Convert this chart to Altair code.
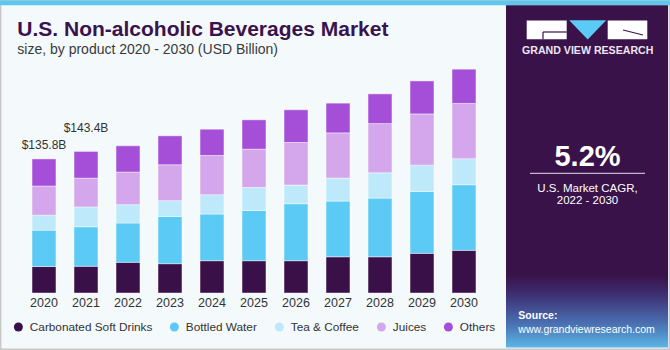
import altair as alt
import pandas as pd

# ---------------- data ----------------
years = ["2020", "2021", "2022", "2023", "2024", "2025", "2026", "2027", "2028", "2029", "2030"]
products = ["Carbonated Soft Drinks", "Bottled Water", "Tea & Coffee", "Juices", "Others"]
colors = ["#3A1049", "#5BCAF5", "#BDE9FA", "#D4A7EC", "#A54FD8"]

csd = [26.8, 27.1, 31.1, 29.7, 32.7, 32.7, 32.7, 36.7, 36.7, 40.2, 43.2]
water = [36.9, 40.0, 39.8, 47.9, 47.3, 50.9, 57.7, 56.4, 59.4, 62.7, 66.5]
tea = [15.1, 20.0, 18.5, 15.9, 19.5, 23.3, 18.9, 23.3, 25.6, 26.6, 26.3]
juices = [29.5, 29.2, 33.1, 36.4, 39.8, 38.8, 43.2, 45.8, 49.9, 51.9, 56.0]
others = [27.5, 27.1, 26.6, 29.3, 26.6, 29.7, 33.1, 30.1, 30.1, 33.4, 34.7]

title_text = "U.S. Non-alcoholic Beverages Market"
subtitle_text = "size, by product 2020 - 2030 (USD Billion)"
brand_text = "GRAND VIEW RESEARCH"
cagr_value = "5.2%"
cagr_line1 = "U.S. Market CAGR,"
cagr_line2 = "2022 - 2030"
source_label = "Source:"
source_url = "www.grandviewresearch.com"

series = [csd, water, tea, juices, others]
rows = []
for pi, (name, vals) in enumerate(zip(products, series)):
    for y, v in zip(years, vals):
        rows.append({"year": y, "product": name, "value": v, "order": pi})
df = pd.DataFrame(rows)

FONT = "Liberation Sans"
TXT = "#333333"
one = pd.DataFrame({"k": [0]})

x_enc = alt.X("year:O", title=None, sort=years,
              scale=alt.Scale(paddingInner=0.43, paddingOuter=0.215),
              axis=alt.Axis(labelAngle=0, domain=False, ticks=False, labelFontSize=12.5,
                            labelColor=TXT, labelPadding=3, labelFont=FONT))

bars = alt.Chart(df).mark_bar(stroke="white", strokeWidth=0.8, strokeOpacity=0.55).encode(
    x=x_enc,
    y=alt.Y("value:Q", stack="zero", axis=None, scale=alt.Scale(domain=[0, 236], nice=False)),
    color=alt.Color("product:N", sort=products,
                    scale=alt.Scale(domain=products, range=colors),
                    legend=alt.Legend(title=None, orient="none", direction="horizontal",
                                      legendX=-10.5, legendY=261, symbolType="circle",
                                      symbolSize=81, symbolStrokeWidth=0, labelFontSize=11.8,
                                      labelFont=FONT, labelColor=TXT, columnPadding=16,
                                      labelOffset=5.5, padding=0)),
    order=alt.Order("order:Q", sort="ascending"),
)

totals = alt.Chart(df).transform_aggregate(
    total="sum(value)", groupby=["year"]
).transform_calculate(
    label="'$' + format(datum.total, '.1f') + 'B'"
)

lab2020 = totals.transform_filter(alt.datum.year == "2020").mark_text(
    fontSize=12, font=FONT, color=TXT, dy=-14, baseline="middle").encode(
    x=alt.X("year:O", sort=years), y=alt.Y("total:Q"), text="label:N")
lab2021 = totals.transform_filter(alt.datum.year == "2021").mark_text(
    fontSize=12, font=FONT, color=TXT, dy=-23, baseline="middle").encode(
    x=alt.X("year:O", sort=years), y=alt.Y("total:Q"), text="label:N")

# ---------------- decorations (plot origin at image (23, 60)) ----------------
def rect(x, x2, y, y2, **kw):
    return alt.Chart(one).mark_rect(**kw).encode(
        x=alt.value(x), x2=alt.value(x2), y=alt.value(y), y2=alt.value(y2))

def text(t, x, y, **kw):
    return alt.Chart(one).mark_text(text=t, font=FONT, **kw).encode(
        x=alt.value(x), y=alt.value(y))

def rule(x, x2, y, y2, **kw):
    return alt.Chart(one).mark_rule(**kw).encode(
        x=alt.value(x), x2=alt.value(x2), y=alt.value(y), y2=alt.value(y2))

border = rect(-22.3, 646.3, -59.3, 289.3, fill=None, stroke="#C8C8C8", strokeWidth=1.4)
stripe = rect(-23, 647, -59.5, -54.7, color="#5CC8F0")

panel_grad = alt.Gradient(
    gradient="linear",
    stops=[alt.GradientStop(color="#39124A", offset=0),
           alt.GradientStop(color="#39124A", offset=0.79),
           alt.GradientStop(color="#3E3276", offset=0.85),
           alt.GradientStop(color="#4A70B2", offset=0.93),
           alt.GradientStop(color="#5AB6E6", offset=1)],
    x1=0, x2=0, y1=0, y2=1)
panel = rect(483, 645, -54.7, 287.5, color=panel_grad)

logo_g = rect(503.7, 543.7, -39.5, -20.7, color="white")
logo_r = rect(584.7, 624.3, -39.5, -20.7, color="white")
logo_g_cut1 = rule(520, 543.7, -28, -28, color="#39124A", strokeWidth=1.2)
logo_g_cut2 = rule(520, 520, -28, -20.7, color="#39124A", strokeWidth=1.2)
logo_r_cut = rule(600, 620, -30, -25, color="#39124A", strokeWidth=1.2)
logo_tri = alt.Chart(one).mark_point(
    shape="M-1,-0.52L1,-0.52L0,0.52Z", size=1369, filled=True, opacity=1,
    color="#5BCAF5").encode(x=alt.value(564.7), y=alt.value(-30.2))

brand = text(brand_text, 564.7, -5.7, fontSize=10.6, fontWeight="bold", color="#EDE6F2",
             align="center", baseline="alphabetic")
cagr = text(cagr_value, 564.5, 105.7, fontSize=29, fontWeight="bold", color="white",
            align="center", baseline="alphabetic")
cagr_rule = rule(507, 622, 113.3, 113.3, color="#E8E0EE", strokeWidth=1)
cagr_t1 = text(cagr_line1, 564.5, 129, fontSize=11.5, color="white",
               align="center", baseline="middle")
cagr_t2 = text(cagr_line2, 564.5, 141, fontSize=11.5, color="white",
               align="center", baseline="middle")
src1 = text(source_label, 495.3, 255.5, fontSize=10.5, fontWeight="bold", color="white",
            align="left", baseline="middle")
src2 = text(source_url, 495.3, 269.5, fontSize=10.5, color="white",
            align="left", baseline="middle")

title = text(title_text, -5.7, -24.3, fontSize=21, fontWeight="bold", color="#39134D",
             align="left", baseline="alphabetic")
subtitle = text(subtitle_text, -5.7, -6, fontSize=14, color="#3A3A3A",
                align="left", baseline="alphabetic")

chart = alt.layer(
    border, stripe, panel, logo_g, logo_r, logo_g_cut1, logo_g_cut2, logo_r_cut, logo_tri,
    brand, cagr, cagr_rule, cagr_t1, cagr_t2, src1, src2, title, subtitle,
    bars, lab2020, lab2021,
).properties(
    width=462, height=233,
    padding={"left": 23, "top": 60, "right": 185, "bottom": 57},
    autosize=alt.AutoSizeParams(type="none"),
    background="#F4F9FC",
).configure_view(stroke=None)

chart.save("out.html", embed_options={"renderer": "svg", "actions": False})
